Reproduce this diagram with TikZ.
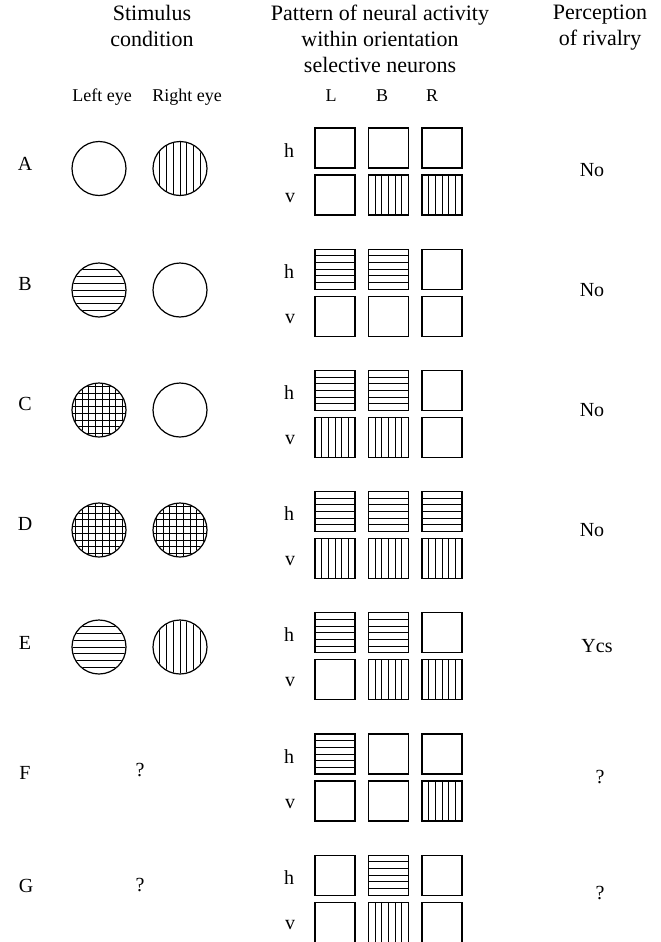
\documentclass[tikz,border=0pt]{standalone}
\usepackage{fontspec}
\setmainfont{Liberation Serif}
\usetikzlibrary{calc}
\tikzset{
  cellbox/.style={draw, line width=1.3pt, minimum size=40pt, inner sep=0pt, outer sep=0pt},
  hatch/.style={line width=1pt},
  disc/.style={draw, circle, line width=1.2pt, minimum size=54pt, inner sep=0pt, outer sep=0pt},
  hdr/.style={font=\fontsize{22}{26}\selectfont, align=center, inner sep=0pt},
  sub/.style={font=\fontsize{18}{22}\selectfont, inner sep=0pt},
  lbl/.style={font=\fontsize{20}{24}\selectfont, inner sep=0pt}
}
% cell: name, x, y, type (0 empty, 1 horizontal, 2 vertical)
\newcommand\mkcell[4]{%
  \node[cellbox] (#1) at (#2,#3) {};
  \ifcase#4\relax\or
    \foreach \k in {1,...,5}{\draw[hatch] ($(#1.north west)!\k/6!(#1.south west)$) -- ($(#1.north east)!\k/6!(#1.south east)$);}%
  \or
    \foreach \k in {1,...,5}{\draw[hatch] ($(#1.north west)!\k/6!(#1.north east)$) -- ($(#1.south west)!\k/6!(#1.south east)$);}%
  \fi
}
% disc: name, x, y, type (0 empty, 1 horizontal, 2 vertical, 3 cross)
\newcommand\mkdisc[4]{%
  \node[disc] (#1) at (#2,#3) {};
  \begin{scope}
    \clip (#1.center) circle[radius=26.4];
    \ifcase#4\relax\or
      \foreach \d in {-20.25,-13.5,-6.75,0,6.75,13.5,20.25}{\draw[hatch] ([shift={(-30,\d)}]#1.center) -- ([shift={(30,\d)}]#1.center);}%
    \or
      \foreach \d in {-20.25,-13.5,-6.75,0,6.75,13.5,20.25}{\draw[hatch] ([shift={(\d,-30)}]#1.center) -- ([shift={(\d,30)}]#1.center);}%
    \or
      \foreach \d in {-23.6,-16.9,-10.1,-3.4,3.4,10.1,16.9,23.6}{%
        \draw[hatch] ([shift={(-30,\d)}]#1.center) -- ([shift={(30,\d)}]#1.center);
        \draw[hatch] ([shift={(\d,-30)}]#1.center) -- ([shift={(\d,30)}]#1.center);}%
    \fi
  \end{scope}
}
% row of cells: id, top y, h L B R, v L B R
\newcommand\mkrow[8]{%
  \pgfmathsetmacro\yh{#2+20}\pgfmathsetmacro\yv{#2+67}%
  \pgfmathsetmacro\bh{#2+29}\pgfmathsetmacro\bv{#2+74}%
  \node[lbl, anchor=base] (hl#1) at (289,\bh) {h};
  \node[lbl, anchor=base] (vl#1) at (290,\bv) {v};
  \mkcell{h#1L}{335}{\yh}{#3}
  \mkcell{h#1B}{388.5}{\yh}{#4}
  \mkcell{h#1R}{442}{\yh}{#5}
  \mkcell{v#1L}{335}{\yv}{#6}
  \mkcell{v#1B}{388.5}{\yv}{#7}
  \mkcell{v#1R}{442}{\yv}{#8}
}
\begin{document}
\begin{tikzpicture}[x=1pt,y=-1pt]
\useasboundingbox (0,0) rectangle (661,942);
\fill[white] (0,0) rectangle (661,942);

% headers
\node[hdr, anchor=north] (hstim) at (152,5) {Stimulus\\condition};
\node[hdr, anchor=north] (hpat) at (380,5) {Pattern of neural activity\\within orientation\\selective neurons};
\node[hdr, anchor=north] (hper) at (600,5) {Perception\\of rivalry};
\node[sub, anchor=base] (leye) at (102,101) {Left eye};
\node[sub, anchor=base] (reye) at (187,101) {Right eye};
\node[sub, anchor=base] (cL) at (331,101) {L};
\node[sub, anchor=base] (cB) at (382,101) {B};
\node[sub, anchor=base] (cR) at (432,101) {R};

% rows
\mkrow{A}{128}{0}{0}{0}{0}{2}{2}
\mkrow{B}{249.2}{1}{1}{0}{0}{0}{0}
\mkrow{C}{370.4}{1}{1}{0}{2}{2}{0}
\mkrow{D}{491.6}{1}{1}{1}{2}{2}{2}
\mkrow{E}{612.8}{1}{1}{0}{0}{2}{2}
\mkrow{F}{734}{1}{0}{0}{0}{0}{2}
\mkrow{G}{855.2}{0}{1}{0}{0}{2}{0}

% row letters
\node[lbl] (rA) at (25,164) {A};
\node[lbl] (rB) at (25,284) {B};
\node[lbl] (rC) at (25,404) {C};
\node[lbl] (rD) at (25,524) {D};
\node[lbl] (rE) at (25,643) {E};
\node[lbl] (rF) at (25,773) {F};
\node[lbl] (rG) at (26,886) {G};

% stimuli
\mkdisc{sAl}{99}{168.5}{0}
\mkdisc{sAr}{180}{168.5}{2}
\mkdisc{sBl}{99}{290}{1}
\mkdisc{sBr}{180}{290}{0}
\mkdisc{sCl}{99}{410}{3}
\mkdisc{sCr}{180}{410}{0}
\mkdisc{sDl}{99}{530}{3}
\mkdisc{sDr}{180}{530}{3}
\mkdisc{sEl}{99}{647}{1}
\mkdisc{sEr}{180}{647}{2}
\node[lbl] (qF) at (140,770) {?};
\node[lbl] (qG) at (140,885) {?};

% perception
\node[lbl] (pA) at (592,170) {No};
\node[lbl] (pB) at (592,290) {No};
\node[lbl] (pC) at (592,410) {No};
\node[lbl] (pD) at (592,530) {No};
\node[lbl] (pE) at (597,646) {Ycs};
\node[lbl] (pF) at (600,777) {?};
\node[lbl] (pG) at (600,893) {?};
\end{tikzpicture}
\end{document}
